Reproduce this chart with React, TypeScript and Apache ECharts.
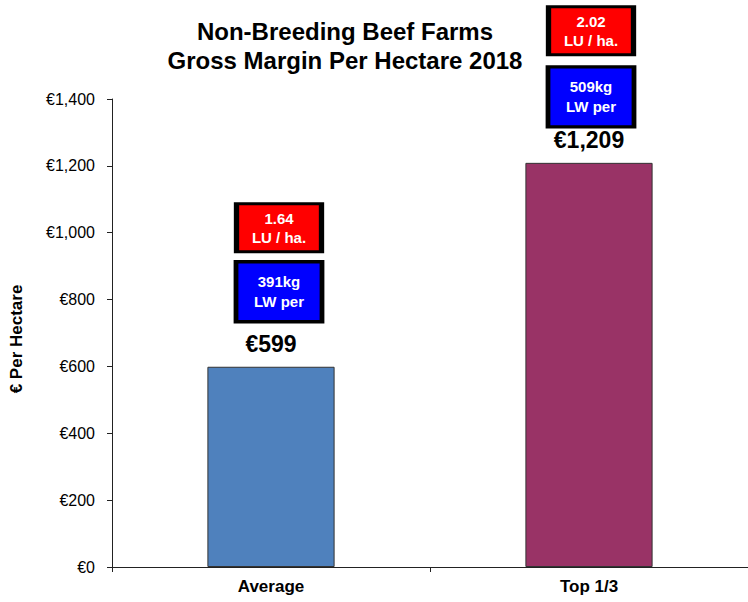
import React, { useEffect, useRef } from "react";
import * as echarts from "echarts";

const categories = ["Average", "Top 1/3"];
const grossMargin = [599, 1209];
const stockingRate = [1.64, 2.02];
const liveweightKg = [391, 509];
const barColors = ["#4F81BD", "#993366"];

const yMin = 0;
const yMax = 1400;
const yInterval = 200;

// annotation box layout (pixel offsets from bar top), not data
const redOffsets = [[8, -139], [2, -132]];
const blueOffsets = [[8, -75], [2, -66]];

const FONT = "'Liberation Sans', Arial, sans-serif";

const fmtEuro = (v: number) => "€" + v.toLocaleString("en-US");

export default function App() {
  const ref = useRef<HTMLDivElement>(null);

  useEffect(() => {
    document.body.style.margin = "0";
    if (!ref.current) return;
    const chart = echarts.init(ref.current, null, { renderer: "svg" });

    const markData: any[] = [];
    categories.forEach((c, i) => {
      markData.push({
        coord: [c, grossMargin[i]],
        symbol: "rect",
        symbolSize: [85, 48],
        symbolOffset: redOffsets[i],
        itemStyle: { color: "#FF0000", borderColor: "#000", borderWidth: 4 },
        label: {
          show: true,
          position: "inside",
          formatter: stockingRate[i].toFixed(2) + "\nLU / ha.",
          color: "#fff",
          fontWeight: "bold",
          fontSize: 15,
          lineHeight: 19,
          fontFamily: FONT,
        },
      });
      markData.push({
        coord: [c, grossMargin[i]],
        symbol: "rect",
        symbolSize: [86, 60],
        symbolOffset: blueOffsets[i],
        itemStyle: { color: "#0000FF", borderColor: "#000", borderWidth: 4 },
        label: {
          show: true,
          position: "inside",
          formatter: liveweightKg[i] + "kg\nLW per",
          color: "#fff",
          fontWeight: "bold",
          fontSize: 15,
          lineHeight: 20,
          fontFamily: FONT,
        },
      });
    });

    chart.setOption({
      animation: false,
      textStyle: { fontFamily: FONT },
      title: {
        text: "Non-Breeding Beef Farms\nGross Margin Per Hectare 2018",
        left: 340,
        textAlign: "center",
        top: 12,
        textStyle: {
          fontFamily: FONT,
          fontSize: 24,
          fontWeight: "bold",
          color: "#000",
          lineHeight: 29,
        },
      },
      grid: { left: 103, top: 99, width: 650, height: 468, containLabel: false },
      xAxis: {
        type: "category",
        data: categories,
        axisLine: { lineStyle: { color: "#222", width: 1 } },
        axisTick: { show: true, length: 5, lineStyle: { color: "#222" } },
        axisLabel: {
          color: "#000",
          fontSize: 17,
          fontWeight: "bold",
          margin: 11,
          fontFamily: FONT,
        },
      },
      yAxis: {
        type: "value",
        min: yMin,
        max: yMax,
        interval: yInterval,
        name: "€ Per Hectare",
        nameLocation: "middle",
        nameGap: 87,
        nameTextStyle: {
          fontSize: 17,
          fontWeight: "bold",
          color: "#000",
          fontFamily: FONT,
          padding: [0, 12, 0, 0],
        },
        axisLine: { show: true, lineStyle: { color: "#222", width: 1 } },
        axisTick: { show: true, length: 5, lineStyle: { color: "#222" } },
        splitLine: { show: false },
        axisLabel: {
          color: "#000",
          fontSize: 16,
          margin: 17,
          fontFamily: FONT,
          formatter: (v: number) => fmtEuro(v),
        },
      },
      series: [
        {
          type: "bar",
          barWidth: "40%",
          data: grossMargin.map((v, i) => ({
            value: v,
            itemStyle: { color: barColors[i] },
          })),
          itemStyle: { borderColor: "#333", borderWidth: 1 },
          label: {
            show: true,
            position: "top",
            distance: 11,
            color: "#000",
            fontSize: 23,
            fontWeight: "bold",
            fontFamily: FONT,
            formatter: (p: any) => fmtEuro(p.value),
          },
          markPoint: {
            silent: true,
            data: markData,
          },
        },
      ],
    });

    return () => chart.dispose();
  }, []);

  return <div ref={ref} style={{ width: 748, height: 602 }} />;
}
